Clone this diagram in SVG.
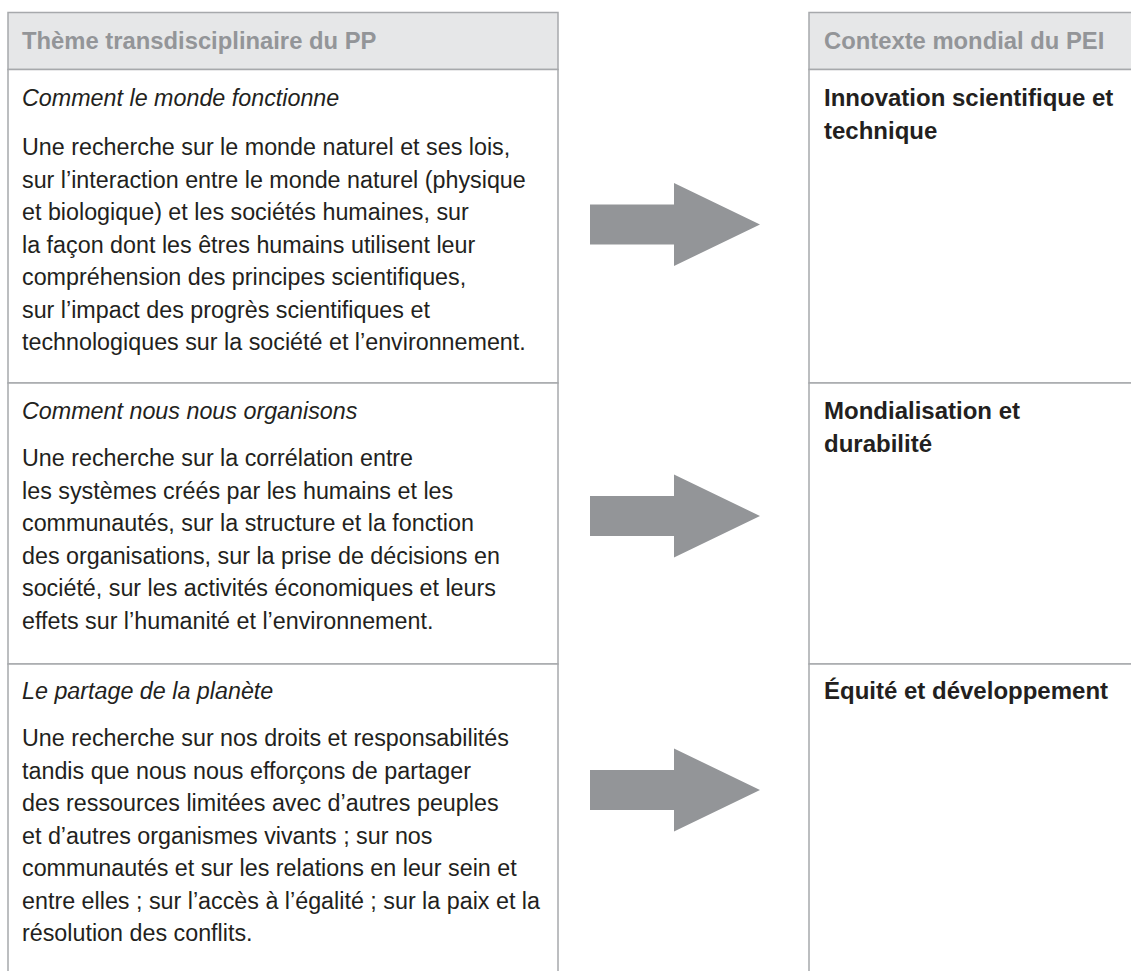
<svg xmlns="http://www.w3.org/2000/svg" width="1131" height="971" viewBox="0 0 1131 971">
<style>
.hdr{fill:#e6e7e8;stroke:#a7a9ac;stroke-width:1.5}
.cell{fill:#ffffff;stroke:#a7a9ac;stroke-width:1.5}
.ht{font-family:"Liberation Sans",Arial,sans-serif;font-weight:bold;font-size:23.8px;fill:#939598}
.it{font-family:"Liberation Sans",Arial,sans-serif;font-style:italic;font-size:23.3px;fill:#231f20}
.bd{font-family:"Liberation Sans",Arial,sans-serif;font-size:23.3px;fill:#231f20}
.bt{font-family:"Liberation Sans",Arial,sans-serif;font-weight:bold;font-size:24px;fill:#231f20}
.arrow{fill:#939598}
</style>
<rect width="1131" height="971" fill="#ffffff"/>
<g id="left-header">
<rect class="hdr" x="8" y="12.5" width="550" height="57"/>
<text class="ht" x="22" y="49">Thème transdisciplinaire du PP</text>
</g>
<g id="right-header">
<rect class="hdr" x="809" y="12.5" width="330" height="57"/>
<text class="ht" x="824" y="49">Contexte mondial du PEI</text>
</g>
<g id="left-row1">
<rect class="cell" x="8" y="69.5" width="550" height="313.5"/>
<text class="it" x="22" y="106">Comment le monde fonctionne</text>
<text class="bd" x="22" y="155">Une recherche sur le monde naturel et ses lois,</text>
<text class="bd" x="22" y="187.5">sur l’interaction entre le monde naturel (physique</text>
<text class="bd" x="22" y="220">et biologique) et les sociétés humaines, sur</text>
<text class="bd" x="22" y="252.5">la façon dont les êtres humains utilisent leur</text>
<text class="bd" x="22" y="285">compréhension des principes scientifiques,</text>
<text class="bd" x="22" y="317.5">sur l’impact des progrès scientifiques et</text>
<text class="bd" x="22" y="350">technologiques sur la société et l’environnement.</text>
</g>
<g id="left-row2">
<rect class="cell" x="8" y="383" width="550" height="281"/>
<text class="it" x="22" y="419">Comment nous nous organisons</text>
<text class="bd" x="22" y="466">Une recherche sur la corrélation entre</text>
<text class="bd" x="22" y="498.5">les systèmes créés par les humains et les</text>
<text class="bd" x="22" y="531">communautés, sur la structure et la fonction</text>
<text class="bd" x="22" y="563.5">des organisations, sur la prise de décisions en</text>
<text class="bd" x="22" y="596">société, sur les activités économiques et leurs</text>
<text class="bd" x="22" y="628.5">effets sur l’humanité et l’environnement.</text>
</g>
<g id="left-row3">
<rect class="cell" x="8" y="664" width="550" height="320"/>
<text class="it" x="22" y="699">Le partage de la planète</text>
<text class="bd" x="22" y="746">Une recherche sur nos droits et responsabilités</text>
<text class="bd" x="22" y="778.5">tandis que nous nous efforçons de partager</text>
<text class="bd" x="22" y="811">des ressources limitées avec d’autres peuples</text>
<text class="bd" x="22" y="843.5">et d’autres organismes vivants ; sur nos</text>
<text class="bd" x="22" y="876">communautés et sur les relations en leur sein et</text>
<text class="bd" x="22" y="908.5">entre elles ; sur l’accès à l’égalité ; sur la paix et la</text>
<text class="bd" x="22" y="941">résolution des conflits.</text>
</g>
<g id="right-row1">
<rect class="cell" x="809" y="69.5" width="330" height="313.5"/>
<text class="bt" x="824" y="106">Innovation scientifique et</text>
<text class="bt" x="824" y="139">technique</text>
</g>
<g id="right-row2">
<rect class="cell" x="809" y="383" width="330" height="281"/>
<text class="bt" x="824" y="419">Mondialisation et</text>
<text class="bt" x="824" y="452">durabilité</text>
</g>
<g id="right-row3">
<rect class="cell" x="809" y="664" width="330" height="320"/>
<text class="bt" x="824" y="699">Équité et développement</text>
</g>
<g id="connectors">
<polygon class="arrow" points="590,204.5 674,204.5 674,183 760,224.5 674,266 674,244.5 590,244.5"/>
<polygon class="arrow" points="590,496 674,496 674,474.5 760,516 674,557.5 674,536 590,536"/>
<polygon class="arrow" points="590,770 674,770 674,748.5 760,790 674,831.5 674,810 590,810"/>
</g>
</svg>
